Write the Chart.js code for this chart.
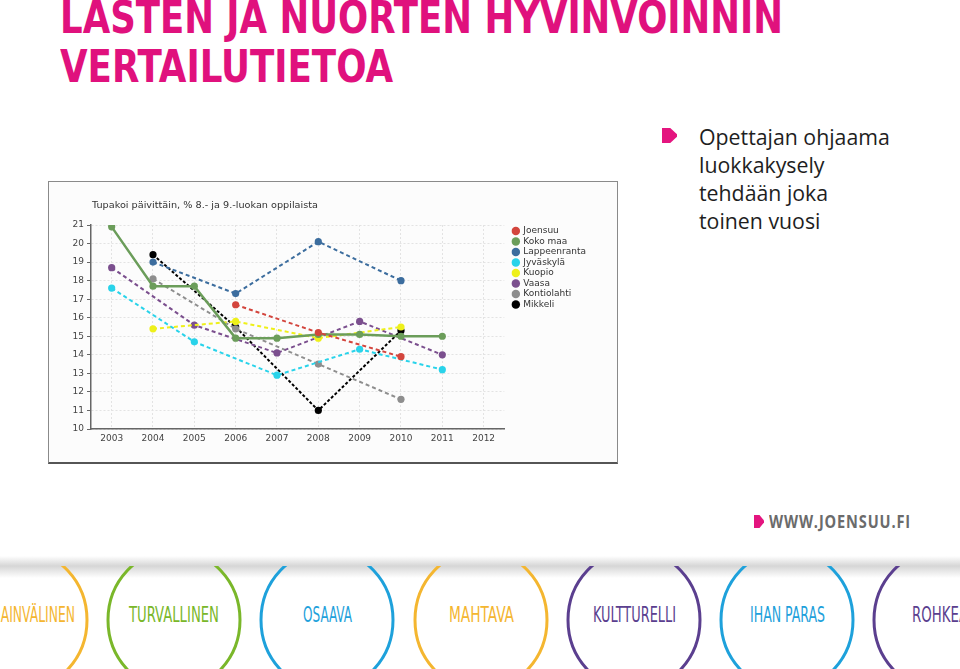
<!DOCTYPE html>
<html>
<head>
<meta charset="utf-8">
<script src="https://cdn.jsdelivr.net/npm/chart.js@4.4.0/dist/chart.umd.min.js"></script>
<style>
  html,body{margin:0;padding:0;background:#fff;width:960px;height:669px;overflow:hidden;position:relative;}
  .abs{position:absolute;white-space:nowrap;}
  .ttl{font-family:"Liberation Sans Narrow","DejaVu Sans Condensed",sans-serif;font-weight:bold;font-size:44px;line-height:44px;color:#e0117d;transform-origin:0 0;}
  #box{position:absolute;left:48px;top:181px;width:568px;height:280px;border:1px solid #8a8a8a;border-bottom:2px solid #555;background:#fcfcfc;}
  #chartTitle{font-family:"DejaVu Sans",sans-serif;font-size:8.5px;line-height:10px;color:#333;transform-origin:0 0;}
  .side{font-family:"Open Sans",sans-serif;font-size:19.5px;line-height:28px;color:#1e1e1e;}
  .bul{position:absolute;background:#e4157f;clip-path:polygon(0 0,55% 0,100% 42%,100% 58%,55% 100%,0 100%);}
  #www{font-family:"Open Sans",sans-serif;font-weight:700;font-size:17px;line-height:17px;letter-spacing:1px;color:#6b6b6b;transform-origin:0 0;}
  .bt{font-family:"Liberation Sans Narrow","DejaVu Sans Condensed",sans-serif;font-size:22px;line-height:22px;transform-origin:0 0;}
</style>
</head>
<body>
<div class="abs ttl" id="t1" data-w="723" style="left:60px;top:-4px;">LASTEN JA NUORTEN HYVINVOINNIN</div>
<div class="abs ttl" id="t2" data-w="333" style="left:60px;top:45px;">VERTAILUTIETOA</div>

<div class="bul" style="left:662px;top:128px;width:15px;height:15px;"></div>
<div class="abs side" id="side" style="left:699px;top:123px;">
  <div id="sideL1">Opettajan ohjaama</div>
  <div>luokkakysely</div>
  <div>tehdään joka</div>
  <div>toinen vuosi</div>
</div>

<div id="box"><canvas id="c" width="568" height="280"></canvas></div>
<div class="abs" id="chartTitle" data-w="226" style="left:92px;top:199.5px;">Tupakoi päivittäin, % 8.- ja 9.-luokan oppilaista</div>

<div class="bul" style="left:754px;top:515px;width:10px;height:13px;"></div>
<div class="abs" id="www" data-w="142" style="left:769px;top:513px;">WWW.JOENSUU.FI</div>

<div style="position:absolute;left:0;top:556px;width:960px;height:10px;background:linear-gradient(to bottom,rgba(255,255,255,0),#d6d6d6);"></div>
<div style="position:absolute;left:0;top:566px;width:960px;height:12px;background:linear-gradient(to bottom,#d6d6d6,rgba(255,255,255,0));"></div>
<svg id="banner" style="position:absolute;left:0;top:566px;" width="960" height="103" viewBox="0 0 960 103"></svg>
<div id="bannerText"></div>

<script>
// ---- data ----
const years = ['2003','2004','2005','2006','2007','2008','2009','2010','2011','2012'];
const seriesNames = ['Joensuu','Koko maa','Lappeenranta','Jyväskylä','Kuopio','Vaasa','Kontiolahti','Mikkeli'];
const joensuu     = [null, null, null, 16.7, null, 15.2, null, 13.9, null, null];
const kokoMaa     = [20.9, 17.7, 17.7, 14.9, 14.9, 15.1, 15.1, 15.0, 15.0, null];
const lappeenranta= [null, 19.0, null, 17.3, null, 20.1, null, 18.0, null, null];
const jyvaskyla   = [17.6, null, 14.7, null, 12.9, null, 14.3, null, 13.2, null];
const kuopio      = [null, 15.4, null, 15.8, null, 14.9, null, 15.5, null, null];
const vaasa       = [18.7, null, 15.6, null, 14.1, null, 15.8, null, 14.0, null];
const kontiolahti = [null, 18.1, null, 15.4, null, 13.5, null, 11.6, null, null];
const mikkeli     = [null, 19.4, null, 15.5, null, 11.0, null, 15.3, null, null];
const yTicks = [10,11,12,13,14,15,16,17,18,19,20,21];
const bannerWords = ['KANSAINVÄLINEN','TURVALLINEN','OSAAVA','MAHTAVA','KULTTURELLI','IHAN PARAS','ROHKEA'];

// ---- styles ----
const colors = ['#d3453d','#6b9d5a','#3c6d9e','#29d3ea','#eef01a','#7b4f8e','#8e8e8e','#000000'];
const values = [joensuu,kokoMaa,lappeenranta,jyvaskyla,kuopio,vaasa,kontiolahti,mikkeli];

Chart.defaults.font.family = '"DejaVu Sans", sans-serif';
Chart.defaults.color = '#444';

const datasets = seriesNames.map((name,i)=>({
  label: name,
  data: values[i],
  borderColor: colors[i],
  backgroundColor: colors[i],
  pointBackgroundColor: colors[i],
  pointBorderWidth: 0,
  pointRadius: 3.6,
  borderWidth: name==='Koko maa' ? 2.5 : 2,
  borderDash: name==='Koko maa' ? [] : (name==='Mikkeli' ? [3,2] : [4,3]),
  spanGaps: true,
  tension: 0,
  fill: false,
  yAxisID: 'y'
}));

new Chart(document.getElementById('c'), {
  type: 'line',
  data: { labels: years, datasets },
  options: {
    responsive: false,
    animation: false,
    events: [],
    layout: { padding: { left: 0, top: 43, bottom: 0, right: 21 } },
    plugins: {
      title: { display: false },
      tooltip: { enabled: false },
      legend: {
        position: 'right',
        align: 'start',
        labels: {
          usePointStyle: true,
          pointStyle: 'circle',
          boxWidth: 6,
          boxHeight: 6,
          padding: 1.5,
          color: '#333',
          font: { size: 9 }
        }
      }
    },
    scales: {
      x: {
        type: 'category',
        offset: true,
        grid: { offset: false, color: '#e3e3e3', drawTicks: false },
        border: { color: '#666', width: 1.5, dash: [2,2] },
        ticks: { font: { size: 9 }, color: '#444', padding: 4, maxRotation: 0, autoSkip: false },
        afterFit(s){ s.height = 33; }
      },
      y: {
        min: 10, max: 21,
        afterBuildTicks(s){ s.ticks = yTicks.map(v=>({value:v})); },
        grid: { color: '#e3e3e3', tickLength: 4, tickColor: '#666' },
        border: { color: '#666', width: 1.5, dash: [2,2] },
        ticks: { font: { size: 9 }, color: '#444', padding: 3 },
        afterFit(s){ s.width = 42; }
      },
      gap: {
        type: 'linear', position: 'right', display: true,
        grid: { display: false, drawTicks: false },
        ticks: { display: false },
        border: { display: false },
        afterFit(s){ s.width = 7; }
      }
    }
  }
});

// ---- banner ----
const bannerColors = ['#f4b630','#7ab72a','#1ea1db','#f4b630','#5b3f8f','#1ea1db','#5b3f8f'];
const centers = [21,174,327,481,634,787,940];
const svg = document.getElementById('banner');
const NS='http://www.w3.org/2000/svg';
centers.forEach((cx,i)=>{
  const e=document.createElementNS(NS,'ellipse');
  e.setAttribute('cx',cx); e.setAttribute('cy',54);
  e.setAttribute('rx',66); e.setAttribute('ry',70);
  e.setAttribute('fill','none'); e.setAttribute('stroke',bannerColors[i]);
  e.setAttribute('stroke-width',3);
  svg.appendChild(e);
});
const bt = document.getElementById('bannerText');
const textW = [108,90,49,65,83,75,56];
bannerWords.forEach((w,i)=>{
  const d=document.createElement('div');
  d.className='abs bt'; d.textContent=w;
  d.style.color=bannerColors[i];
  d.style.top='604px';
  d.dataset.w=textW[i];
  d.dataset.cx=centers[i];
  bt.appendChild(d);
});

function fit(){
  document.querySelectorAll('[data-w]').forEach(el=>{
    el.style.display='inline-block';
    const w=el.getBoundingClientRect().width;
    const s=parseFloat(el.dataset.w)/w;
    el.style.transform='scaleX('+s+')';
    if(el.dataset.cx){ el.style.left=(parseFloat(el.dataset.cx)-parseFloat(el.dataset.w)/2)+'px'; }
  });
  const l1=document.getElementById('sideL1');
  l1.style.display='inline-block';
  const w=l1.getBoundingClientRect().width;
  const side=document.getElementById('side');
  side.style.fontSize=(19.5*191/w)+'px';
}
fit();
</script>
</body>
</html>
